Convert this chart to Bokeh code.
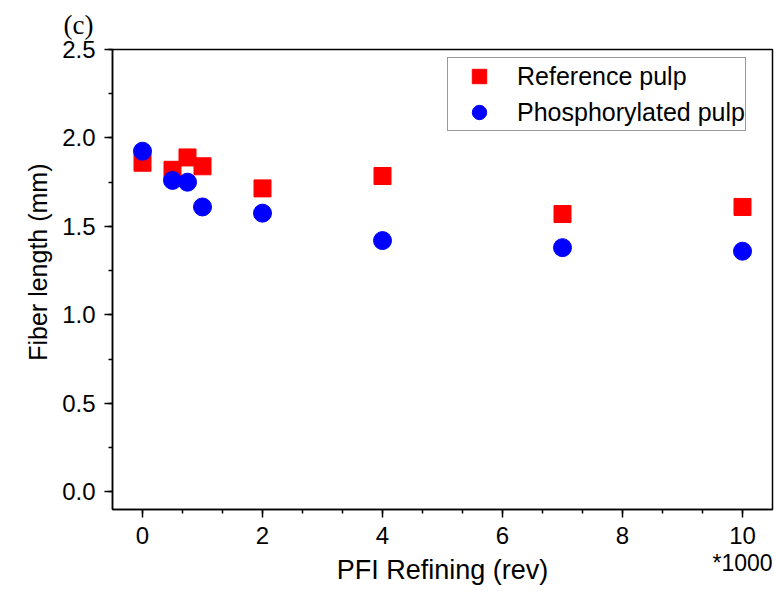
from bokeh.plotting import figure
from bokeh.models import (Range1d, Legend, LegendItem, FixedTicker, ColumnDataSource,
                          LinearAxis, CustomJSTickFormatter)
from bokeh.embed import file_html
from bokeh.resources import INLINE

# Data (PFI refining in thousands of revolutions)
refining_k = [0, 0.5, 0.75, 1, 2, 4, 7, 10]
reference_pulp = [1.86, 1.82, 1.89, 1.84, 1.715, 1.785, 1.57, 1.61]
phosphorylated_pulp = [1.925, 1.76, 1.75, 1.61, 1.575, 1.42, 1.38, 1.36]

x_ticks = [0, 2, 4, 6, 8, 10]
x_minor_ticks = [i * 2 / 3 for i in range(0, 16)]
y_ticks = [0.0, 0.5, 1.0, 1.5, 2.0, 2.5]
y_minor_ticks = [i * 0.25 for i in range(0, 11)]
multiplier_tick = [10]
multiplier_text = "*1000"

FONT = "Liberation Sans"

p = figure(width=774, height=596, output_backend="svg", toolbar_location=None,
           x_range=Range1d(-0.5, 10.5), y_range=Range1d(-0.1, 2.5),
           min_border_left=112, min_border_right=2, min_border_top=49, min_border_bottom=87)
p.background_fill_color = "white"
p.border_fill_color = "white"
p.outline_line_color = "black"
p.outline_line_width = 1.5
p.grid.visible = False

# Panel label "(c)" as the plot title
p.title.text = "(c)"
p.title.text_font = "Liberation Serif"
p.title.text_font_size = "27px"
p.title.text_font_style = "normal"
p.title.text_color = "black"
p.title.align = "left"
p.title.vertical_align = "top"
p.title.offset = -49
p.title.standoff = 16

src_ref = ColumnDataSource(dict(x=refining_k, y=reference_pulp))
src_pho = ColumnDataSource(dict(x=refining_k, y=phosphorylated_pulp))

r_ref = p.scatter("x", "y", source=src_ref, marker="square", size=17,
                  fill_color="#ff0000", line_color="#ff0000")
r_pho = p.scatter("x", "y", source=src_pho, marker="circle", size=18,
                  fill_color="#0000ff", line_color="#0000ff")

# Axes
p.xaxis.ticker = FixedTicker(ticks=x_ticks, minor_ticks=x_minor_ticks)
p.yaxis.ticker = FixedTicker(ticks=y_ticks, minor_ticks=y_minor_ticks)
for ax in (p.xaxis[0], p.yaxis[0]):
    ax.axis_line_color = "black"
    ax.axis_line_width = 1.5
    ax.major_tick_line_color = "black"
    ax.major_tick_line_width = 1.5
    ax.minor_tick_line_color = "black"
    ax.minor_tick_line_width = 1.5
    ax.major_tick_in = 0
    ax.major_tick_out = 8
    ax.minor_tick_in = 0
    ax.minor_tick_out = 4
    ax.major_label_text_font = FONT
    ax.major_label_text_font_size = "24px"
    ax.major_label_text_color = "black"
    ax.axis_label_text_font = FONT
    ax.axis_label_text_font_size = "25px"
    ax.axis_label_text_font_style = "normal"
    ax.axis_label_text_color = "black"

# leading no-break spaces shift the centred title up along the axis, as in the original
p.yaxis.axis_label = "\u00a0" * 5 + "Fiber length (mm)"
p.xaxis.major_label_standoff = 9
p.yaxis.major_label_standoff = 9
p.yaxis.axis_label_standoff = 7
p.yaxis.formatter = CustomJSTickFormatter(code="return tick.toFixed(1);")

# Second bottom axis: carries the "*1000" multiplier and the axis title
ax2 = LinearAxis(ticker=FixedTicker(ticks=multiplier_tick, minor_ticks=[]),
                 major_label_overrides={10: multiplier_text})
ax2.axis_line_color = None
ax2.major_tick_line_color = None
ax2.minor_tick_line_color = None
ax2.major_tick_in = 0
ax2.major_tick_out = 0
ax2.minor_tick_in = 0
ax2.minor_tick_out = 0
ax2.major_label_standoff = 3
ax2.major_label_text_font = FONT
ax2.major_label_text_font_size = "23px"
ax2.major_label_text_color = "black"
ax2.axis_label = "PFI Refining (rev)"
ax2.axis_label_text_font = FONT
ax2.axis_label_text_font_size = "27px"
ax2.axis_label_text_font_style = "normal"
ax2.axis_label_text_color = "black"
ax2.axis_label_standoff = -24
p.add_layout(ax2, "below")

legend = Legend(items=[LegendItem(label="Reference pulp", renderers=[r_ref]),
                       LegendItem(label="Phosphorylated pulp", renderers=[r_pho])],
                location=(335, 378))
legend.glyph_width = 62
legend.glyph_height = 36
legend.spacing = -4
legend.padding = 0
legend.margin = 0
legend.label_standoff = 7
legend.label_height = 32
legend.label_text_font = FONT
legend.label_text_font_size = "25px"
legend.label_text_color = "black"
legend.border_line_color = "#333333"
legend.border_line_width = 1
legend.background_fill_color = "white"
legend.background_fill_alpha = 1.0
p.add_layout(legend)

open("out.html", "w").write(file_html(p, INLINE))
